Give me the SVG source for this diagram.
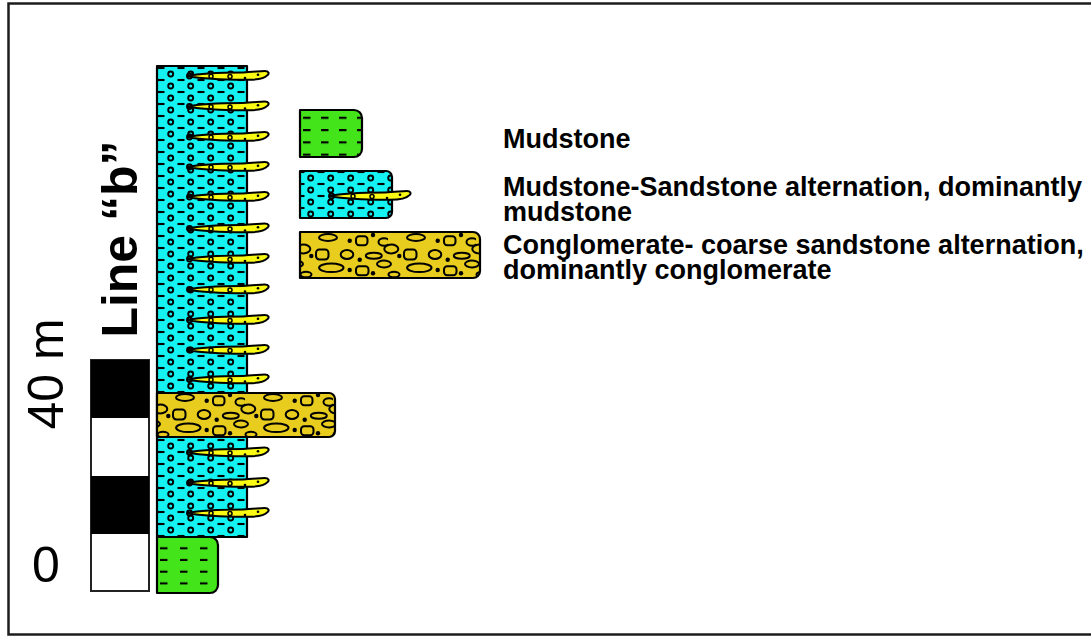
<svg xmlns="http://www.w3.org/2000/svg" xmlns:xlink="http://www.w3.org/1999/xlink" width="1091" height="637" viewBox="0 0 1091 637">
  <style>
    .edge { stroke: #000; stroke-width: 2.2; stroke-linejoin: round; }
    .mark { fill: none; stroke: #000; stroke-width: 2.1; stroke-linecap: butt; }
    .peb { fill: none; stroke: #000; stroke-width: 2; }
    .dot { fill: #000; }
    .ring { fill: #14f2f2; stroke: #000; stroke-width: 1.9; }
    .legend { font-family: "Liberation Sans", Arial, sans-serif; font-weight: bold; font-size: 27px; fill: #000; }
    .scale { font-family: "Liberation Sans", Arial, sans-serif; font-size: 50px; fill: #000; }
  </style>
  <defs>
    <!-- mudstone-sandstone: rings with dashes between them -->
    <g id="ms-tile">
      <rect width="30" height="30" fill="#14f2f2"/>
      <line class="mark" x1="0.5" y1="2" x2="7.5" y2="2"/>
      <circle class="ring" cx="13.7" cy="8" r="2.5"/>
    </g>
    <pattern id="pat-ms-col" patternUnits="userSpaceOnUse" x="157" y="66" width="20" height="12">
      <use href="#ms-tile"/>
    </pattern>
    <pattern id="pat-ms-leg" patternUnits="userSpaceOnUse" x="297" y="170" width="20" height="12">
      <use href="#ms-tile"/>
    </pattern>

    <!-- mudstone: short dashes -->
    <g id="mud-tile">
      <rect width="30" height="30" fill="#43e41a"/>
      <line class="mark" x1="3" y1="5.8" x2="10.5" y2="5.8"/>
    </g>
    <pattern id="pat-mud-col" patternUnits="userSpaceOnUse" x="157" y="542.5" width="20" height="11.7">
      <use href="#mud-tile"/>
    </pattern>
    <pattern id="pat-mud-leg" patternUnits="userSpaceOnUse" x="300" y="112" width="18" height="12.3">
      <use href="#mud-tile"/>
    </pattern>

    <!-- conglomerate: pebbles, granules and dots -->
    <g id="cg-tile">
      <rect width="88" height="44" fill="#e8cc1e"/>
      <ellipse class="peb" cx="28" cy="4.5" rx="9" ry="3.4"/>
      <rect class="peb" x="56" y="3.2" width="11.5" height="9" rx="3.2"/>
      <ellipse class="peb" cx="84" cy="9" rx="5.5" ry="3.8"/>
      <ellipse class="peb" cx="3.3" cy="16" rx="7" ry="4.4"/>
      <ellipse class="peb" cx="91.3" cy="16" rx="7" ry="4.4"/>
      <rect class="peb" x="16" y="16.5" width="12.5" height="10" rx="3.4"/>
      <ellipse class="peb" cx="47" cy="21.5" rx="6.3" ry="4.5"/>
      <ellipse class="peb" cx="73.8" cy="22.8" rx="8" ry="3"/>
      <ellipse class="peb" cx="31.3" cy="34.8" rx="12.2" ry="4.3"/>
      <rect class="peb" x="56" y="33.2" width="12.5" height="9" rx="3.2"/>
      <ellipse class="peb" cx="84" cy="31" rx="7" ry="3.4"/>
      <ellipse class="peb" cx="-4" cy="31" rx="7" ry="3.4"/>
      <ellipse class="peb" cx="6" cy="41.5" rx="5.5" ry="2.8"/>
      <ellipse class="peb" cx="94" cy="41.5" rx="5.5" ry="2.8"/>
      <circle class="dot" cx="49.7" cy="7.7" r="2.2"/>
      <circle class="dot" cx="73" cy="2" r="2.2"/>
      <circle class="dot" cx="11.3" cy="23" r="2.2"/>
      <circle class="dot" cx="59.7" cy="26.8" r="2.2"/>
      <circle class="dot" cx="49.7" cy="37" r="2.2"/>
      <circle class="dot" cx="73" cy="40.3" r="2.2"/>
    </g>
    <pattern id="pat-cg-col" patternUnits="userSpaceOnUse" x="157" y="393" width="88" height="44">
      <use href="#cg-tile"/>
    </pattern>
    <pattern id="pat-cg-leg" patternUnits="userSpaceOnUse" x="300" y="233" width="88" height="44">
      <use href="#cg-tile"/>
    </pattern>

    <!-- sandstone lens, origin at the thin left tip -->
    <g id="lens">
      <path d="M0,0 C10,-2.5 30,-3.6 55,-3.6 C64,-3.6 71,-5 76.5,-5 C81,-5 81.5,-2.6 79.5,-0.8 C76.5,2.6 70,3.8 60,3.8 C40,3.9 15,3 0,0 Z" fill="#fafa14" stroke="#000" stroke-width="2" stroke-linejoin="round"/>
      <circle cx="1.5" cy="0" r="2.5" fill="none" stroke="#000" stroke-width="1.9"/>
      <circle cx="23" cy="0.3" r="2" fill="#fafa14" stroke="#000" stroke-width="1.5"/>
      <circle cx="42" cy="0.6" r="2" fill="#fafa14" stroke="#000" stroke-width="1.5"/>
      <circle cx="57" cy="2" r="1.3" fill="#000"/>
      <circle cx="70" cy="-1.2" r="1.3" fill="#000"/>
    </g>
  </defs>

  <!-- outer frame -->
  <rect x="8.5" y="3.5" width="1092" height="631" fill="#fff" stroke="#1c1c1c" stroke-width="2.5"/>

  <!-- vertical scale -->
  <g id="scale">
    <rect x="91" y="360" width="58" height="231" fill="#fff" stroke="#222" stroke-width="2"/>
    <rect x="91" y="360" width="58" height="58" fill="#000"/>
    <rect x="91" y="476" width="58" height="58" fill="#000"/>
    <text class="scale" x="46" y="582" text-anchor="middle" font-size="46">0</text>
    <text class="scale" transform="translate(63,374) rotate(-90)" text-anchor="middle">40 m</text>
  </g>

  <g id="title">
    <text class="scale" transform="translate(137,239) rotate(-90)" text-anchor="middle" font-weight="bold">Line “b”</text>
  </g>

  <!-- stratigraphic column -->
  <g id="unit-mudstone-sandstone">
    <path class="edge" d="M157,66 H247 V537 H157 Z" fill="url(#pat-ms-col)"/>
  </g>
  <g id="unit-conglomerate">
    <path class="edge" d="M157,393 H329 A6,6 0 0 1 335,399 V431 A6,6 0 0 1 329,437 H157 Z" fill="url(#pat-cg-col)"/>
  </g>
  <g id="unit-mudstone">
    <path class="edge" d="M157,537 H210 A8,8 0 0 1 218,545 V585 A8,8 0 0 1 210,593 H157 Z" fill="url(#pat-mud-col)"/>
  </g>
  <g id="lenses">
    <use href="#lens" x="188" y="76"/>
    <use href="#lens" x="188" y="106.5"/>
    <use href="#lens" x="188" y="137"/>
    <use href="#lens" x="188" y="167"/>
    <use href="#lens" x="188" y="197"/>
    <use href="#lens" x="188" y="228.5"/>
    <use href="#lens" x="188" y="259"/>
    <use href="#lens" x="188" y="289.5"/>
    <use href="#lens" x="188" y="320"/>
    <use href="#lens" x="188" y="350"/>
    <use href="#lens" x="188" y="379.5"/>
    <use href="#lens" x="188" y="452.5"/>
    <use href="#lens" x="188" y="483"/>
    <use href="#lens" x="188" y="513"/>
  </g>

  <!-- legend -->
  <g id="legend-mudstone">
    <path class="edge" d="M300,110 H354 A8,8 0 0 1 362,118 V149 A8,8 0 0 1 354,157 H300 Z" fill="url(#pat-mud-leg)"/>
    <text class="legend" x="503" y="148">Mudstone</text>
  </g>
  <g id="legend-mudstone-sandstone">
    <path class="edge" d="M300,171 H386 A6,6 0 0 1 392,177 V212 A6,6 0 0 1 386,218 H300 Z" fill="url(#pat-ms-leg)"/>
    <use href="#lens" x="330" y="196"/>
    <text class="legend" x="503" y="196">Mudstone-Sandstone alternation, dominantly</text>
    <text class="legend" x="503" y="221">mudstone</text>
  </g>
  <g id="legend-conglomerate">
    <path class="edge" d="M300,232 H473 A7,7 0 0 1 480,239 V271 A7,7 0 0 1 473,278 H300 Z" fill="url(#pat-cg-leg)"/>
    <text class="legend" x="503" y="254">Conglomerate- coarse sandstone alternation,</text>
    <text class="legend" x="503" y="279">dominantly conglomerate</text>
  </g>
</svg>
